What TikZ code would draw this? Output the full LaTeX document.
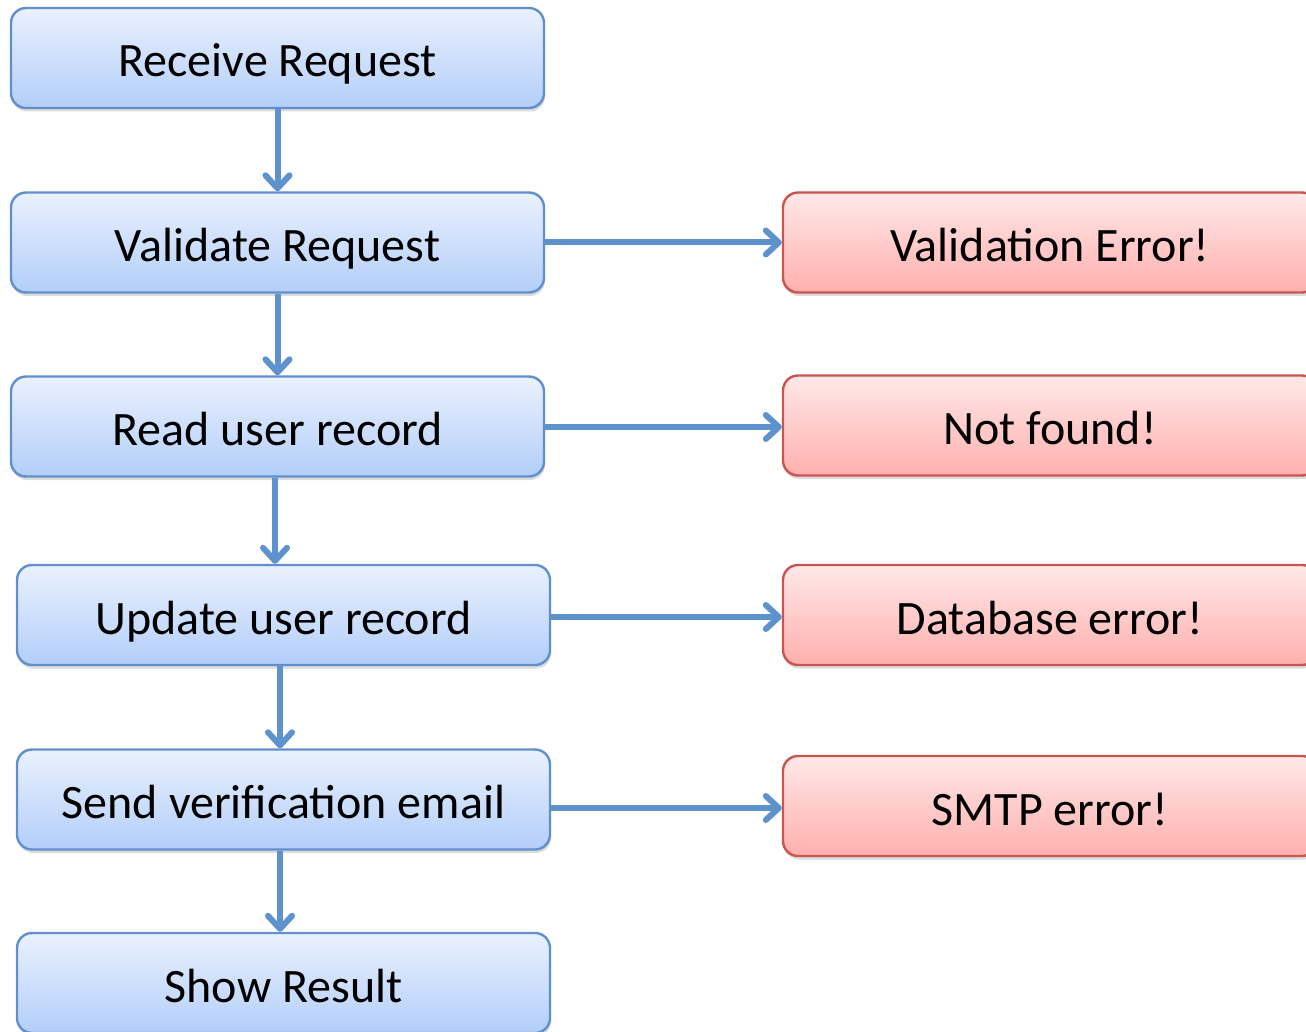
\documentclass[tikz,border=0pt]{standalone}
\usepackage{fontspec}
\setmainfont{Carlito}
\usetikzlibrary{arrows.meta,shadows,calc}
\definecolor{bluetop}{RGB}{234,241,253}
\definecolor{bluebot}{RGB}{179,206,250}
\definecolor{blueline}{RGB}{97,143,204}
\definecolor{arrowblue}{RGB}{94,146,204}
\definecolor{redtop}{RGB}{255,232,232}
\definecolor{redbot}{RGB}{255,176,174}
\definecolor{redline}{RGB}{202,84,80}
\tikzset{
  basebox/.style={rounded corners=15pt, line width=2.4pt, inner sep=0pt,
    minimum height=100pt, text height=40pt, text depth=2pt,
    font=\fontsize{48}{56}\selectfont,
    drop shadow={opacity=0.28, shadow xshift=1pt, shadow yshift=-3.5pt}},
  stepbox/.style={basebox, draw=blueline, top color=bluetop, bottom color=bluebot, minimum width=533pt},
  errbox/.style={basebox, draw=redline, top color=redtop, bottom color=redbot, minimum width=534pt},
  flow/.style={draw=arrowblue, line width=6pt,
    -{Straight Barb[length=13pt,width=24pt,line width=6pt,round]}},
}
\begin{document}
\begin{tikzpicture}[x=1pt,y=-1pt]
\useasboundingbox (0,0) rectangle (1306,1032);
\node[stepbox] (recv) at (277.5,58) {Receive Request};
\node[stepbox] (valid) at (277.5,242.5) {Validate Request};
\node[stepbox] (read) at (277.5,426.5) {Read user record};
\node[stepbox] (upd) at (283.5,615) {Update user record};
\node[stepbox] (send) at (283.5,799.5) {Send verification email};
\node[stepbox] (show) at (283.5,983) {Show Result};

\node[errbox] (e1) at (1050,242.5) {Validation Error!};
\node[errbox] (e2) at (1050,425.5) {Not found!};
\node[errbox] (e3) at (1050,615) {Database error!};
\node[errbox] (e4) at (1050,806) {SMTP error!};

\draw[flow] (recv.south) -- (recv.south |- valid.north);
\draw[flow] (valid.south) -- (valid.south |- read.north);
\draw[flow] ([xshift=-2.5pt]read.south) -- ([xshift=-2.5pt]read.south |- upd.north);
\draw[flow] ([xshift=-3.5pt]upd.south) -- ([xshift=-3.5pt]upd.south |- send.north);
\draw[flow] ([xshift=-3.5pt]send.south) -- ([xshift=-3.5pt]send.south |- show.north);

\draw[flow] (valid.east) -- (e1.west);
\draw[flow] ([yshift=-1.5pt]e2.west -| read.east) -- ([yshift=-1.5pt]e2.west);
\draw[flow] ([yshift=-2pt]e3.west -| upd.east) -- ([yshift=-2pt]e3.west);
\draw[flow] ([yshift=-2pt]e4.west -| send.east) -- ([yshift=-2pt]e4.west);
\end{tikzpicture}
\end{document}
